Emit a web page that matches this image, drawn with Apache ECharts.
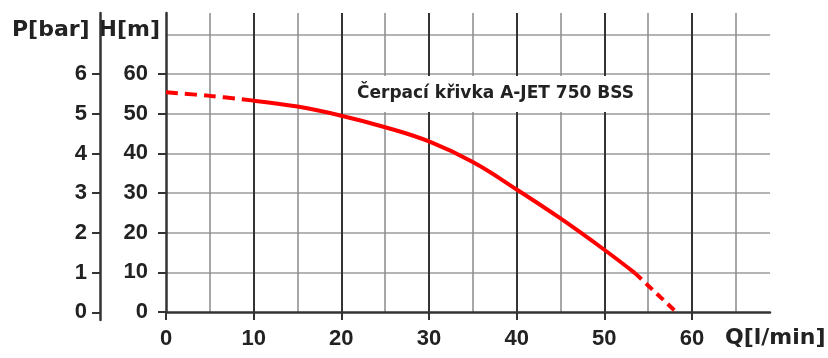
<!DOCTYPE html>
<html>
<head>
<meta charset="utf-8">
<script src="https://cdn.jsdelivr.net/npm/echarts@6/dist/echarts.min.js"></script>
<style>html,body{margin:0;padding:0;background:#fff;}#c{width:828px;height:358px;}</style>
</head>
<body>
<div id="c"></div>
<script>
// Data
var qStart = [0, 5, 10];
var hStart = [55.4, 54.5, 53.3];
var qSolid = [10, 15, 20, 25, 30, 35, 40, 45, 50, 53.5];
var hSolid = [53.3, 51.8, 49.5, 46.6, 43.0, 37.8, 30.9, 23.6, 15.7, 9.8];
var qEnd = [53.5, 58.2];
var hEnd = [9.8, 0];
var qTicks = [0, 10, 20, 30, 40, 50, 60];
var hTicks = [0, 10, 20, 30, 40, 50, 60];
var pTicks = [0, 1, 2, 3, 4, 5, 6];
var titleText = 'Čerpací křivka A-JET 750 BSS';
var hName = 'H[m]', pName = 'P[bar]', qName = 'Q[l/min]';

function pairs(xs, ys) { return xs.map(function (x, i) { return [x, ys[i]]; }); }

var digitFont = { fontFamily: 'Liberation Sans', fontWeight: 'bold', fontSize: 22, color: '#222' };
var axisColor = '#333';
var Q_MAX = 68.9, H_MAX = 75.4;

var chart = echarts.init(document.getElementById('c'), null, { renderer: 'canvas' });
chart.setOption({
  animation: false,
  backgroundColor: '#fff',
  title: {
    text: titleText,
    left: 343, top: 76,
    padding: [9, 10, 9, 14],
    backgroundColor: '#fff',
    textStyle: { fontFamily: 'DejaVu Sans', fontWeight: 'bold', fontSize: 17, color: '#222', lineHeight: 18 }
  },
  grid: [
    { left: 166, right: 58, top: 13, bottom: 46 },
    { left: 100, width: 10, top: 13, bottom: 38 }
  ],
  xAxis: [
    { // minor vertical grid lines every 5
      gridIndex: 0, type: 'value', min: 0, max: Q_MAX, interval: 5, position: 'bottom',
      axisLine: { show: false }, axisTick: { show: false }, axisLabel: { show: false },
      splitLine: { show: true, showMinLine: false, showMaxLine: false, lineStyle: { color: '#8a8a8a', width: 1.5 } }
    },
    { // major vertical grid lines every 10
      gridIndex: 0, type: 'value', min: 0, max: Q_MAX, interval: 10, position: 'bottom',
      axisLine: { show: false }, axisTick: { show: false }, axisLabel: { show: false },
      splitLine: { show: true, showMinLine: false, showMaxLine: false, lineStyle: { color: '#333', width: 2 } }
    },
    { // axis line, ticks and labels
      gridIndex: 0, type: 'value', min: 0, max: Q_MAX, position: 'bottom',
      axisLine: { show: true, lineStyle: { color: axisColor, width: 2.5 } },
      axisTick: { show: true, customValues: qTicks, length: 8, lineStyle: { color: axisColor, width: 2 } },
      axisLabel: Object.assign({ customValues: qTicks, margin: 16 }, digitFont),
      splitLine: { show: false }
    },
    { gridIndex: 1, type: 'value', show: false }
  ],
  yAxis: [
    { // horizontal grid lines every 10
      gridIndex: 0, type: 'value', min: 0, max: H_MAX, interval: 10, position: 'left',
      axisLine: { show: false }, axisTick: { show: false }, axisLabel: { show: false },
      splitLine: { show: true, showMinLine: false, showMaxLine: false, lineStyle: { color: '#9a9a9a', width: 1.5 } }
    },
    { // H axis line, ticks and labels
      gridIndex: 0, type: 'value', min: 0, max: H_MAX, position: 'left', offset: 0,
      axisLine: { show: true, lineStyle: { color: axisColor, width: 2.5 } },
      axisTick: { show: true, customValues: hTicks, length: 8, lineStyle: { color: axisColor, width: 2 } },
      axisLabel: Object.assign({ customValues: hTicks, margin: 18 }, digitFont),
      splitLine: { show: false }
    },
    { // P axis
      gridIndex: 1, type: 'value', min: -0.194, max: 7.537, position: 'left',
      axisLine: { show: true, lineStyle: { color: axisColor, width: 2.5 } },
      axisTick: { show: true, customValues: pTicks, length: 8, lineStyle: { color: axisColor, width: 2 } },
      axisLabel: Object.assign({ customValues: pTicks, margin: 13 }, digitFont),
      splitLine: { show: false }
    }
  ],
  graphic: [
    { type: 'text', left: 12, top: 19, style: { text: pName, font: 'bold 22px "DejaVu Sans"', fill: '#222' } },
    { type: 'text', right: 668, top: 19, style: { text: hName, font: 'bold 22px "DejaVu Sans"', fill: '#222' } },
    { type: 'text', left: 725, top: 327, style: { text: qName, font: 'bold 22px "DejaVu Sans"', fill: '#222' } }
  ],
  series: [
    {
      type: 'line', xAxisIndex: 0, yAxisIndex: 0, data: pairs(qStart, hStart), symbol: 'none', smooth: 0.4,
      lineStyle: { color: '#ff0000', width: 4, type: [12, 7] }, z: 5
    },
    {
      type: 'line', xAxisIndex: 0, yAxisIndex: 0, data: pairs(qSolid, hSolid), symbol: 'none', smooth: 0.4,
      lineStyle: { color: '#ff0000', width: 4 }, z: 5
    },
    {
      type: 'line', xAxisIndex: 0, yAxisIndex: 0, data: pairs(qEnd, hEnd), symbol: 'none',
      lineStyle: { color: '#ff0000', width: 4, type: [9, 6] }, z: 5
    }
  ]
});
</script>
</body>
</html>
